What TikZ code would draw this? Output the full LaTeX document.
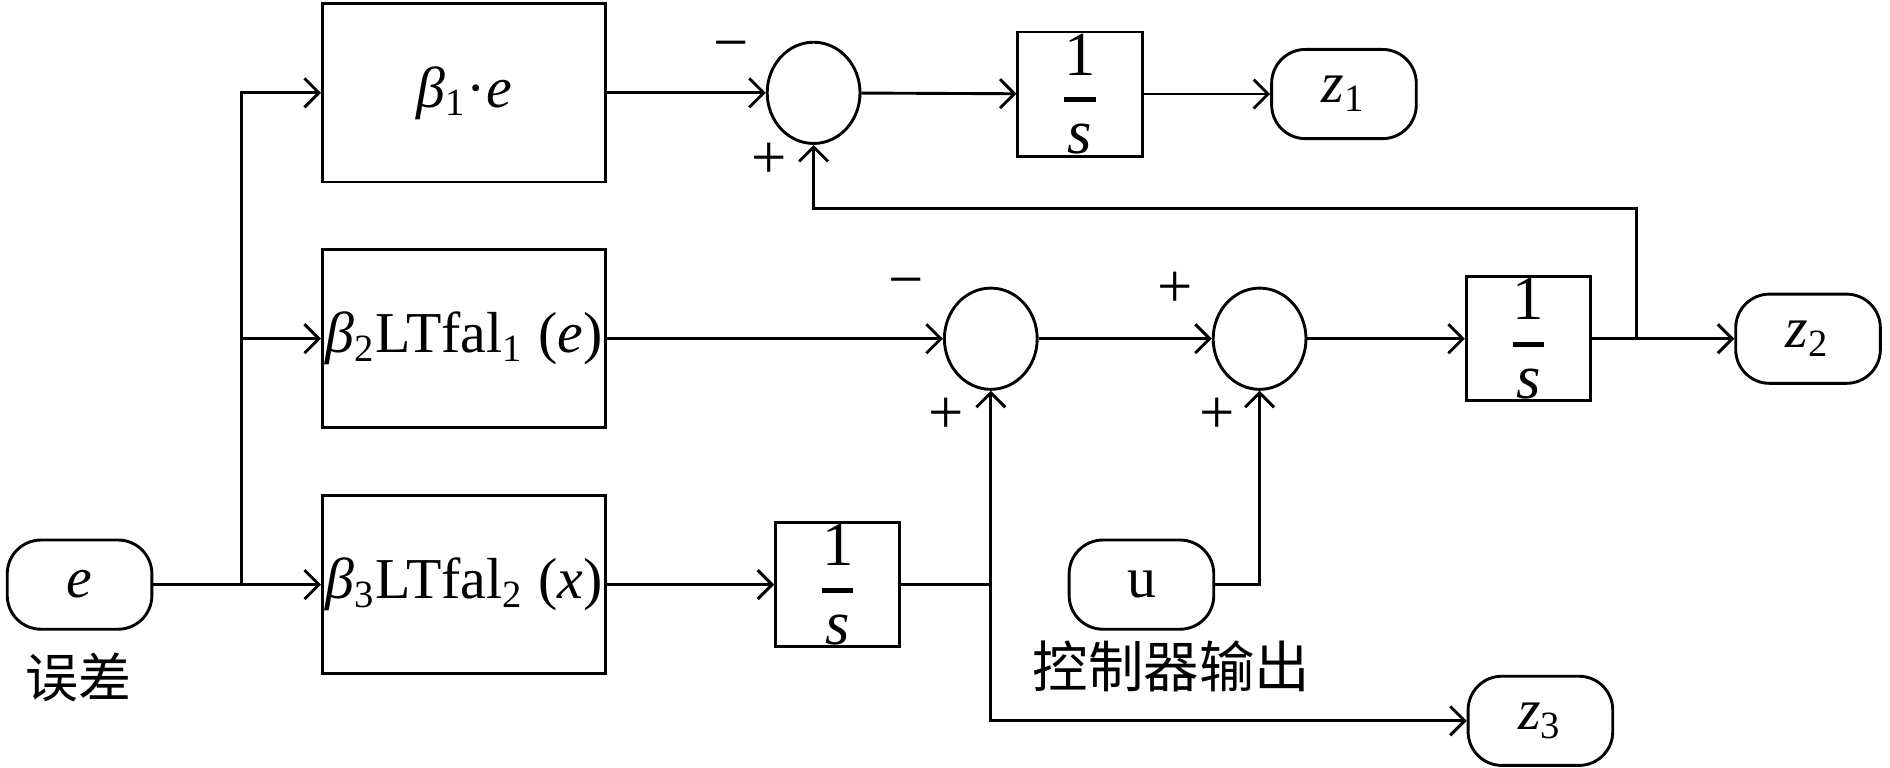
\documentclass[tikz,border=0pt]{standalone}
\usepackage{amsmath}
\usepackage{fontspec}
\setmainfont{Liberation Serif}
\newfontfamily\cjk{Noto Sans CJK SC}
\usetikzlibrary{positioning,calc,shapes.geometric,arrows.meta}

\tikzset{
  blk/.style={draw, minimum width=58.75pt, minimum height=37pt, inner sep=0pt},
  intg/.style={draw, minimum width=25.75pt, minimum height=25.75pt, inner sep=0pt, font=\fontsize{13}{14}\selectfont},
  sumnode/.style={draw, ellipse, minimum width=19.25pt, minimum height=21pt, inner sep=0pt},
  port/.style={draw, rounded corners=7pt, minimum width=30pt, minimum height=18.5pt, inner sep=0pt},
  sgn/.style={inner sep=0pt, font=\fontsize{13}{13}\selectfont},
  >={Straight Barb[length=3pt,width=6pt]}
}
\newcommand{\integ}{$\genfrac{}{}{1.1pt}{0}{\mbox{1}}{\mbox{\itshape s}}$}

\begin{document}
\begin{tikzpicture}[x=0.25pt, y=-0.25pt, line width=0.6pt, font=\fontsize{12}{14}\selectfont]
  \useasboundingbox (0,0) rectangle (1568,637);

  \path
  (66,485) node[port] (e) {\itshape e}
  (65,562) node[font=\cjk\fontsize{11}{11}\selectfont] (err) {误差}
  (200,485) coordinate (split)
  (385,77) node[blk] (b1) {{\itshape β}\textsubscript{1}·{\itshape e}}
  (385,281) node[blk] (b2) {{\itshape β}\textsubscript{2}LTfal\textsubscript{1} ({\itshape e})}
  (385,485) node[blk] (b3) {{\itshape β}\textsubscript{3}LTfal\textsubscript{2} ({\itshape x})}
  (675,77) node[sumnode] (s1) {}
  (896,78) node[intg] (i1) {\integ}
  (1115,78) node[port] (z1) {{\itshape z}\textsubscript{1}}
  (822,281) node[sumnode] (s2) {}
  (1045,281) node[sumnode] (s3) {}
  (1268,281) node[intg] (i2) {\integ}
  (1500,281) node[port] (z2) {{\itshape z}\textsubscript{2}}
  (1358,281) coordinate (fb)
  (1358,173) coordinate (fbtop)
  (695,485) node[intg] (i3) {\integ}
  (822,485) coordinate (j3)
  (947,485) node[port] (u) {u}
  (972,553) node[font=\cjk\fontsize{11.5}{11.5}\selectfont] (uout) {控制器输出}
  (1278,598) node[port] (z3) {{\itshape z}\textsubscript{3}};

  \path
  (607,43) node[sgn] {−}
  (638,133) node[sgn] {+}
  (752,240) node[sgn] {−}
  (785,345) node[sgn] {+}
  (975,240) node[sgn] {+}
  (1010,345) node[sgn] {+};

  \draw (e) -- (split);
  \foreach \b in {b1,b2,b3} \draw[->] (split) |- (\b.west);
  \draw[->] (b1) -- (s1);
  \draw[->] (s1) -- (i1);
  \draw[->] (i1) -- (z1);
  \draw[->] (b2) -- (s2);
  \draw[->] (s2) -- (s3);
  \draw[->] (s3) -- (i2);
  \draw[->] (i2) -- (z2);
  \draw[->] (fb) -- (fbtop) -| (s1.south);
  \draw[->] (b3) -- (i3);
  \draw (i3) -- (j3);
  \draw[->] (j3) -- (s2.south);
  \draw[->] (j3) |- (z3.west);
  \draw[->] (u) -| (s3.south);
\end{tikzpicture}
\end{document}
